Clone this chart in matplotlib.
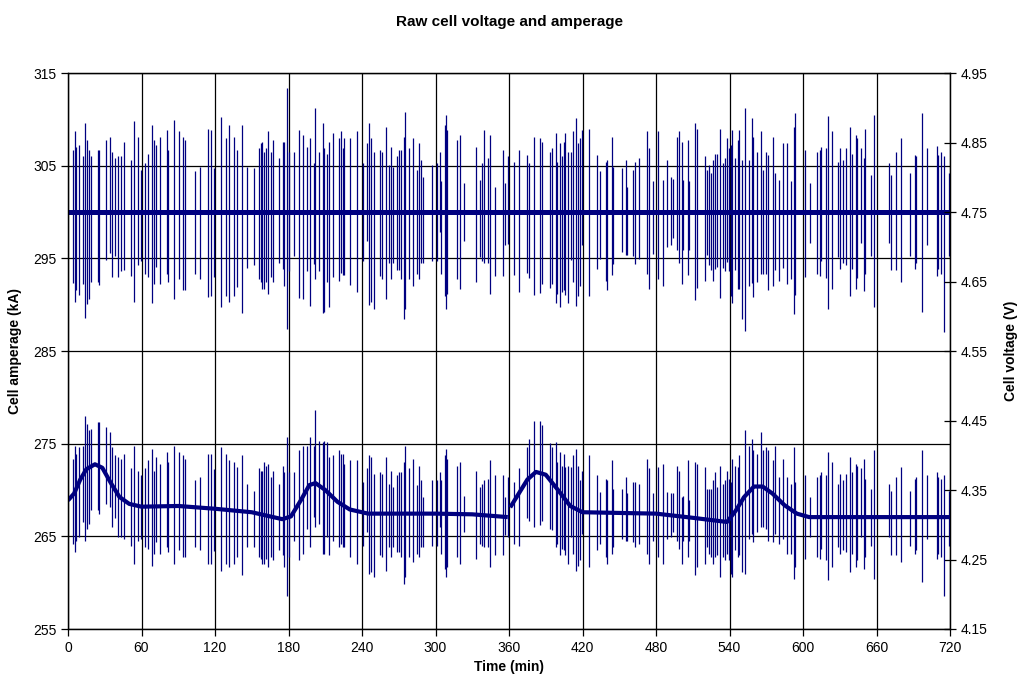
import matplotlib
matplotlib.use("Agg")
import matplotlib.pyplot as plt
import numpy as np

plt.rcParams['font.family'] = ['Liberation Sans', 'DejaVu Sans']

# spike instants (min), shared by both signals
spike_t = [3.8, 5.7, 6.5, 9.2, 12.5, 13.9, 15.8, 16.9, 19.0, 24.8, 25.6, 31.0, 34.3, 36.2, 38.6, 41.1, 43.3, 46.0,
           51.2, 53.9, 56.9, 59.6, 63.1, 65.0, 68.6, 70.2, 71.8, 75.1, 80.5, 81.9, 86.5, 90.9, 93.6, 95.8, 103.4,
           107.8, 114.6,
           116.5, 119.2, 124.9, 129.0, 131.7, 135.5, 137.7, 142.0, 146.4, 151.6, 156.2, 157.3, 158.4, 160.0, 161.6,
           163.5, 165.4, 167.6, 172.5, 175.2, 176.3, 178.5, 180.7, 184.8, 188.3, 191.6, 194.9, 197.6, 200.8, 201.9,
           204.9, 207.9, 209.0, 211.2, 212.8, 216.6, 221.2, 222.6, 224.8, 225.6, 230.2, 235.7,
           241.1, 243.8, 245.7, 247.3, 249.8, 254.7, 256.3, 259.6, 261.8, 263.7, 265.6, 268.3, 270.5, 272.1, 274.3,
           275.1, 278.6, 281.9, 284.6, 286.5, 287.9, 290.1, 296.9, 300.9, 303.7, 304.8, 307.8, 308.6, 309.7, 317.3,
           320.0, 323.5, 333.1, 336.3, 337.7, 339.9, 343.1, 344.5, 348.6, 354.8, 357.0, 359.5, 364.1,
           368.2, 375.0, 376.3, 380.4, 385.3, 387.2, 393.5, 395.1, 398.4, 399.5, 401.6, 403.0, 404.9, 405.7, 408.4,
           410.3, 412.5, 414.7, 416.6, 418.0, 419.3, 425.0, 432.1, 434.3, 438.9, 440.3, 444.3, 445.2, 452.0, 455.5,
           456.6, 461.0, 462.9, 466.4, 472.9, 474.6, 477.8, 481.9, 485.5,
           489.2, 492.0, 494.1, 497.4, 498.8, 501.5, 502.3, 506.1, 506.9, 511.8, 513.2, 520.3, 521.4, 523.3, 524.6,
           526.3, 528.2, 529.5, 532.2, 534.4, 536.3, 537.7, 539.8, 541.2, 542.0, 544.5, 546.7, 547.8, 549.9, 552.4,
           556.2, 558.4, 559.4, 562.2, 565.7, 567.6, 569.8, 571.7, 575.8, 577.1, 580.4, 583.4, 586.9, 589.9, 592.7,
           593.5, 601.6,
           605.7, 611.7, 613.9, 614.7, 618.5, 620.1, 623.4, 628.8, 629.9, 632.7, 635.4, 638.4, 639.8, 643.0, 644.1,
           647.3, 650.1, 650.6, 655.5, 658.2, 670.4, 671.6, 676.2, 680.3, 687.6, 691.2, 692.2, 697.1, 701.0, 709.1,
           709.9, 712.7, 715.3, 719.2]

# amperage (kA)
amp_hi = [306.7, 308.7, 307.0, 307.2, 306.0, 309.6, 307.8, 306.7, 306.0, 306.7, 306.7, 307.8, 308.1, 306.5, 305.8,
          306.0, 306.0, 307.6, 305.6, 309.8, 308.1, 304.5, 305.3, 306.3, 309.4, 307.8, 307.2, 308.1, 308.8, 306.7,
          309.9, 308.7, 308.1, 307.8, 304.4, 304.9, 309.0,
          308.9, 304.7, 310.3, 308.0, 309.4, 308.1, 306.7, 309.4, 304.9, 304.7, 306.9, 307.4, 307.6, 306.5, 306.9,
          308.7, 306.5, 307.8, 305.8, 307.6, 307.6, 313.4, 306.5, 306.5, 308.9, 308.3, 307.0, 308.0, 305.3, 311.2,
          306.5, 309.6, 306.9, 306.3, 307.6, 308.5, 308.0, 308.7, 306.9, 308.0, 308.0, 308.7,
          305.3, 307.4, 309.6, 308.0, 306.5, 306.7, 306.5, 309.2, 305.1, 307.0, 304.9, 306.0, 306.7, 306.7, 308.1,
          310.8, 306.9, 308.0, 304.5, 307.4, 305.6, 303.8, 305.1, 305.3, 306.5, 303.3, 309.4, 310.5, 308.9, 307.8,
          308.3, 303.1, 307.0, 303.5, 305.3, 308.9, 305.8, 308.3, 302.7, 306.7, 303.1, 306.0, 305.4,
          306.7, 306.2, 305.3, 308.1, 308.0, 307.6, 306.5, 306.9, 308.5, 305.4, 307.4, 306.0, 307.6, 308.5, 306.5,
          306.5, 308.7, 310.1, 307.4, 308.0, 308.9, 309.0, 306.2, 304.4, 305.4, 305.6, 308.1, 304.9, 304.7, 305.6,
          302.7, 304.5, 305.4, 305.8, 308.7, 306.9, 303.3, 308.7, 303.5,
          305.6, 303.8, 303.6, 308.1, 308.7, 307.6, 303.5, 307.8, 303.3, 309.6, 309.0, 306.0, 304.5, 305.1, 304.2,
          305.6, 306.3, 306.3, 309.0, 305.3, 305.8, 308.0, 306.9, 307.2, 308.9, 305.8, 307.8, 308.9, 305.6, 311.2,
          305.6, 310.1, 308.1, 306.5, 308.7, 304.5, 306.5, 306.2, 308.1, 304.2, 303.5, 307.4, 307.4, 303.3, 309.2,
          310.7, 306.7,
          303.1, 306.5, 306.7, 307.0, 306.9, 310.4, 308.7, 305.4, 306.9, 305.6, 306.9, 309.2, 306.3, 308.3, 308.0,
          306.9, 305.8, 309.0, 304.0, 310.5, 305.3, 304.0, 306.5, 308.0, 304.2, 306.2, 306.0, 310.7, 306.9, 307.1,
          306.2, 306.5, 306.0, 304.2]
amp_lo = [292.3, 290.3, 291.6, 291.0, 292.2, 288.6, 290.1, 290.6, 292.5, 292.5, 292.1, 294.8, 295.6, 293.0, 295.3,
          293.0, 293.6, 293.7, 293.1, 290.3, 294.3, 294.7, 293.3, 293.0, 290.2, 292.2, 294.1, 292.2, 293.3, 292.5,
          290.6, 292.8, 291.6, 291.6, 293.3, 292.8, 290.8,
          290.9, 293.0, 289.8, 290.9, 290.3, 290.9, 291.9, 289.1, 294.0, 294.3, 292.8, 292.5, 291.7, 291.7, 292.5,
          291.1, 293.0, 292.5, 294.5, 293.9, 292.0, 287.4, 293.6, 295.3, 290.7, 290.6, 293.6, 289.9, 294.4, 292.8,
          293.6, 289.1, 289.2, 292.4, 289.8, 293.0, 292.6, 293.4, 293.2, 293.2, 292.1, 291.4,
          294.7, 296.9, 290.0, 290.3, 289.5, 293.1, 292.8, 290.6, 294.5, 292.8, 294.5, 293.7, 293.7, 292.8, 288.4,
          289.5, 292.8, 292.0, 293.3, 292.8, 294.5, 294.5, 294.7, 294.7, 297.8, 293.3, 290.9, 289.5, 291.1, 292.8,
          291.7, 296.9, 292.5, 295.1, 294.7, 294.5, 294.5, 291.1, 293.1, 293.1, 296.4, 296.5, 293.2,
          291.4, 293.4, 292.9, 291.0, 291.3, 292.2, 291.8, 292.2, 290.2, 291.1, 289.8, 291.4, 291.6, 291.0, 290.2,
          294.8, 292.4, 289.9, 290.9, 292.0, 296.4, 290.9, 293.8, 294.9, 292.6, 291.6, 293.2, 294.4, 295.7, 295.4,
          295.4, 295.2, 294.4, 294.9, 293.3, 291.7, 295.5, 292.8, 292.0,
          296.2, 296.4, 297.2, 295.9, 294.5, 292.2, 295.9, 293.2, 295.9, 290.5, 291.8, 292.6, 295.4, 294.3, 293.7,
          292.6, 293.8, 294.1, 290.7, 294.0, 293.6, 294.6, 293.6, 290.9, 290.2, 293.7, 291.7, 291.7, 288.4, 287.2,
          292.0, 292.3, 290.8, 292.4, 293.3, 293.3, 293.3, 291.6, 292.0, 293.7, 292.6, 294.0, 292.2, 292.8, 289.0,
          291.0, 293.0,
          296.7, 293.3, 293.1, 294.7, 292.9, 289.5, 291.7, 295.1, 293.9, 294.5, 294.3, 290.9, 293.9, 291.7, 292.9,
          296.7, 291.5, 293.3, 295.3, 289.8, 296.7, 293.7, 293.7, 292.5, 295.3, 293.9, 294.5, 289.2, 296.4, 293.1,
          293.9, 293.3, 287.0, 295.3]
amp_base_t = [0, 720]
amp_base = [300.0, 300.0]

# voltage (V)
volt_hi = [4.395, 4.414, 4.402, 4.412, 4.414, 4.457, 4.445, 4.436, 4.438, 4.448, 4.448, 4.441, 4.433, 4.412, 4.400,
           4.397, 4.395, 4.402, 4.381, 4.414, 4.378, 4.371, 4.381, 4.393, 4.409, 4.378, 4.397, 4.388, 4.405, 4.390,
           4.414, 4.405, 4.400, 4.395, 4.364, 4.369, 4.402,
           4.402, 4.380, 4.412, 4.402, 4.393, 4.390, 4.383, 4.400, 4.359, 4.349, 4.381, 4.378, 4.378, 4.390, 4.385,
           4.388, 4.369, 4.378, 4.359, 4.385, 4.376, 4.426, 4.376, 4.376, 4.407, 4.414, 4.414, 4.426, 4.414, 4.465,
           4.421, 4.419, 4.421, 4.419, 4.397, 4.400, 4.407, 4.402, 4.402, 4.388, 4.393, 4.393,
           4.361, 4.381, 4.400, 4.397, 4.373, 4.376, 4.373, 4.397, 4.359, 4.378, 4.354, 4.371, 4.376, 4.376, 4.390,
           4.414, 4.381, 4.395, 4.357, 4.385, 4.364, 4.340, 4.364, 4.364, 4.376, 4.364, 4.400, 4.409, 4.395, 4.385,
           4.390, 4.342, 4.378, 4.354, 4.359, 4.364, 4.366, 4.393, 4.371, 4.371, 4.340, 4.369, 4.361,
           4.381, 4.412, 4.424, 4.450, 4.450, 4.443, 4.417, 4.412, 4.419, 4.390, 4.405, 4.385, 4.402, 4.383, 4.385,
           4.383, 4.400, 4.409, 4.385, 4.364, 4.378, 4.400, 4.371, 4.347, 4.366, 4.364, 4.393, 4.352, 4.352, 4.369,
           4.345, 4.361, 4.361, 4.359, 4.395, 4.381, 4.345, 4.383, 4.388,
           4.347, 4.345, 4.345, 4.385, 4.378, 4.340, 4.342, 4.393, 4.335, 4.390, 4.388, 4.383, 4.352, 4.352, 4.352,
           4.364, 4.376, 4.354, 4.385, 4.359, 4.364, 4.378, 4.366, 4.361, 4.395, 4.385, 4.383, 4.400, 4.342, 4.436,
           4.414, 4.424, 4.407, 4.402, 4.433, 4.407, 4.412, 4.407, 4.393, 4.414, 4.369, 4.395, 4.369, 4.359, 4.412,
           4.361, 4.371,
           4.340, 4.369, 4.371, 4.376, 4.371, 4.405, 4.390, 4.359, 4.373, 4.364, 4.373, 4.397, 4.376, 4.388, 4.385,
           4.381, 4.395, 4.366, 4.352, 4.407, 4.359, 4.349, 4.369, 4.383, 4.349, 4.366, 4.369, 4.407, 4.371, 4.376,
           4.369, 4.366, 4.371, 4.349]
volt_lo = [4.273, 4.261, 4.277, 4.282, 4.304, 4.277, 4.294, 4.301, 4.321, 4.321, 4.316, 4.330, 4.325, 4.297, 4.309,
           4.282, 4.282, 4.280, 4.270, 4.244, 4.277, 4.280, 4.268, 4.265, 4.241, 4.258, 4.275, 4.258, 4.268, 4.261,
           4.244, 4.263, 4.253, 4.253, 4.268, 4.263, 4.244,
           4.244, 4.262, 4.234, 4.244, 4.239, 4.244, 4.253, 4.227, 4.268, 4.268, 4.253, 4.251, 4.244, 4.244, 4.251,
           4.239, 4.253, 4.249, 4.263, 4.256, 4.239, 4.198, 4.253, 4.277, 4.249, 4.258, 4.294, 4.268, 4.311, 4.297,
           4.301, 4.258, 4.258, 4.282, 4.256, 4.277, 4.268, 4.273, 4.268, 4.268, 4.253, 4.244,
           4.270, 4.289, 4.229, 4.232, 4.225, 4.256, 4.253, 4.234, 4.268, 4.253, 4.268, 4.261, 4.261, 4.253, 4.215,
           4.225, 4.253, 4.246, 4.258, 4.253, 4.268, 4.268, 4.270, 4.270, 4.297, 4.258, 4.237, 4.225, 4.239, 4.253,
           4.244, 4.289, 4.251, 4.273, 4.270, 4.268, 4.268, 4.239, 4.256, 4.256, 4.285, 4.282, 4.273,
           4.270, 4.309, 4.306, 4.297, 4.299, 4.306, 4.294, 4.292, 4.268, 4.273, 4.256, 4.265, 4.263, 4.256, 4.244,
           4.282, 4.258, 4.234, 4.241, 4.249, 4.287, 4.239, 4.263, 4.273, 4.253, 4.244, 4.258, 4.268, 4.280, 4.277,
           4.277, 4.275, 4.268, 4.273, 4.258, 4.244, 4.277, 4.253, 4.244,
           4.280, 4.282, 4.289, 4.277, 4.265, 4.244, 4.277, 4.253, 4.277, 4.227, 4.239, 4.244, 4.268, 4.258, 4.253,
           4.244, 4.253, 4.256, 4.225, 4.253, 4.249, 4.258, 4.249, 4.229, 4.225, 4.263, 4.253, 4.256, 4.232, 4.229,
           4.280, 4.287, 4.275, 4.289, 4.297, 4.297, 4.294, 4.277, 4.275, 4.287, 4.273, 4.280, 4.258, 4.258, 4.222,
           4.239, 4.251,
           4.282, 4.253, 4.251, 4.265, 4.249, 4.220, 4.239, 4.268, 4.258, 4.263, 4.261, 4.232, 4.258, 4.239, 4.249,
           4.282, 4.237, 4.253, 4.270, 4.222, 4.282, 4.256, 4.256, 4.246, 4.270, 4.258, 4.263, 4.217, 4.280, 4.251,
           4.258, 4.253, 4.198, 4.270]
volt_base_t = [0, 5, 10, 15, 22, 28, 35, 42, 50, 60, 90, 120, 150, 175, 182, 190, 197, 202, 210, 220, 230, 245,
               300, 330, 359, 360, 361, 368, 375, 382, 390, 400, 410, 420, 480, 510, 538, 545, 552, 560, 567, 575,
               585, 595, 605, 720]
volt_base = [4.335, 4.345, 4.365, 4.380, 4.387, 4.382, 4.360, 4.340, 4.330, 4.326, 4.327, 4.323, 4.318, 4.308,
             4.312, 4.335, 4.357, 4.360, 4.350, 4.333, 4.322, 4.316, 4.316, 4.315, 4.311, np.nan, 4.325, 4.345,
             4.365, 4.376, 4.372, 4.350, 4.327, 4.318, 4.316, 4.310, 4.304, 4.320, 4.340, 4.355, 4.355, 4.345,
             4.328, 4.316, 4.311, 4.311]

x_ticks = np.arange(0, 721, 60)
amp_ticks = np.arange(255, 316, 10)
volt_ticks = np.arange(4.15, 4.96, 0.1)

navy = '#000080'

fig = plt.figure(figsize=(10.17, 6.92), dpi=100)
ax = fig.add_axes([68 / 1017, 1 - 629 / 692, 882 / 1017, 556 / 692])
ax2 = ax.twinx()

ax.set_xlim(0, 720)
ax.set_ylim(255, 315)
ax2.set_ylim(4.15, 4.95)
ax.set_xticks(x_ticks)
ax.set_yticks(amp_ticks)
ax2.set_yticks(volt_ticks)
ax2.set_yticklabels(['%.2f' % v for v in volt_ticks])

ax.grid(True, color='black', lw=0.9)
ax.set_axisbelow(True)

# amperage
ax.vlines(spike_t, amp_lo, amp_hi, color=navy, lw=0.9)
ax.plot(amp_base_t, amp_base, color=navy, lw=3.6, solid_capstyle='butt')

# voltage
ax2.vlines(spike_t, volt_lo, volt_hi, color=navy, lw=0.9)
ax2.plot(volt_base_t, volt_base, color=navy, lw=3.0, solid_capstyle='butt')

for a in (ax, ax2):
    for s in a.spines.values():
        s.set_color('black')
        s.set_linewidth(0.9)
ax.tick_params(axis='both', labelsize=10, length=5, width=0.9, direction='out')
ax2.tick_params(axis='y', labelsize=10, length=8, width=0.9, direction='inout')

ax.set_title('Raw cell voltage and amperage', fontsize=11, fontweight='bold', pad=34)
ax.set_xlabel('Time (min)', fontsize=10, fontweight='bold', labelpad=4)
ax.set_ylabel('Cell amperage (kA)', fontsize=10, fontweight='bold', labelpad=8)
ax2.set_ylabel('Cell voltage (V)', fontsize=10, fontweight='bold', rotation=90, labelpad=12)

fig.savefig('out.png', dpi=100)
